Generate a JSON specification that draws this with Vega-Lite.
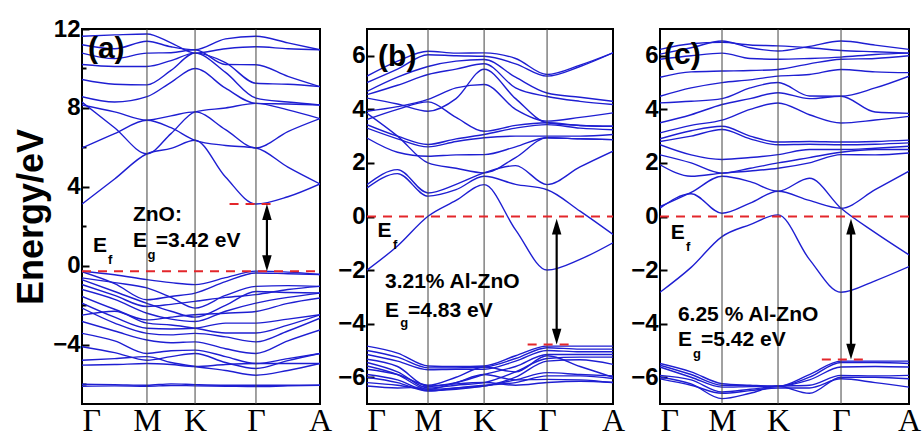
{
"$schema": "https://vega.github.io/schema/vega-lite/v6.json",
"padding": {"left": 12, "top": 16, "right": 2, "bottom": 0},
"bounds": "flush",
"spacing": 47,
"config": {
  "view": {"stroke": "black", "strokeWidth": 2},
  "font": "Liberation Sans",
  "axis": {"labelFont": "Liberation Sans", "labelFontWeight": "bold", "labelColor": "black", "titleColor": "black", "grid": false, "domain": false, "tickColor": "black"}
},
"datasets": {
"A": [
{"b":"c1","k":0,"e":3.13},{"b":"c1","k":0.137,"e":4.4},{"b":"c1","k":0.273,"e":5.68},{"b":"c1","k":0.374,"e":5.95},{"b":"c1","k":0.475,"e":6.36},{"b":"c1","k":0.603,"e":4.5},{"b":"c1","k":0.731,"e":3.13},{"b":"c1","k":0.865,"e":3.5},{"b":"c1","k":1,"e":4.15},
{"b":"c2","k":0,"e":5.97},{"b":"c2","k":0.137,"e":6.7},{"b":"c2","k":0.273,"e":7.38},{"b":"c2","k":0.374,"e":7.0},{"b":"c2","k":0.475,"e":6.36},{"b":"c2","k":0.603,"e":6.1},{"b":"c2","k":0.731,"e":5.97},{"b":"c2","k":0.865,"e":5.0},{"b":"c2","k":1,"e":4.15},
{"b":"c3","k":0,"e":8.3},{"b":"c3","k":0.137,"e":7.0},{"b":"c3","k":0.273,"e":5.68},{"b":"c3","k":0.374,"e":6.7},{"b":"c3","k":0.475,"e":7.8},{"b":"c3","k":0.603,"e":8.0},{"b":"c3","k":0.731,"e":8.23},{"b":"c3","k":0.865,"e":7.9},{"b":"c3","k":1,"e":7.46},
{"b":"c4","k":0,"e":8.15},{"b":"c4","k":0.137,"e":7.8},{"b":"c4","k":0.273,"e":7.38},{"b":"c4","k":0.374,"e":7.6},{"b":"c4","k":0.475,"e":7.8},{"b":"c4","k":0.603,"e":6.9},{"b":"c4","k":0.731,"e":5.97},{"b":"c4","k":0.865,"e":6.8},{"b":"c4","k":1,"e":7.46},
{"b":"c5","k":0,"e":8.57},{"b":"c5","k":0.137,"e":8.3},{"b":"c5","k":0.273,"e":8.57},{"b":"c5","k":0.374,"e":9.3},{"b":"c5","k":0.475,"e":10.0},{"b":"c5","k":0.603,"e":9.0},{"b":"c5","k":0.731,"e":8.23},{"b":"c5","k":0.865,"e":8.2},{"b":"c5","k":1,"e":8.15},
{"b":"c6","k":0,"e":9.44},{"b":"c6","k":0.137,"e":9.2},{"b":"c6","k":0.273,"e":9.17},{"b":"c6","k":0.374,"e":9.9},{"b":"c6","k":0.475,"e":10.78},{"b":"c6","k":0.603,"e":9.8},{"b":"c6","k":0.731,"e":8.5},{"b":"c6","k":0.865,"e":8.3},{"b":"c6","k":1,"e":8.15},
{"b":"c7","k":0,"e":10.2},{"b":"c7","k":0.137,"e":10.1},{"b":"c7","k":0.273,"e":10.1},{"b":"c7","k":0.374,"e":10.4},{"b":"c7","k":0.475,"e":10.78},{"b":"c7","k":0.603,"e":10.3},{"b":"c7","k":0.731,"e":9.25},{"b":"c7","k":0.865,"e":9.2},{"b":"c7","k":1,"e":9.08},
{"b":"c8","k":0,"e":10.78},{"b":"c8","k":0.137,"e":10.5},{"b":"c8","k":0.273,"e":10.78},{"b":"c8","k":0.374,"e":10.8},{"b":"c8","k":0.475,"e":10.95},{"b":"c8","k":0.603,"e":10.2},{"b":"c8","k":0.731,"e":10.19},{"b":"c8","k":0.865,"e":9.6},{"b":"c8","k":1,"e":9.08},
{"b":"c9","k":0,"e":11.2},{"b":"c9","k":0.137,"e":11.0},{"b":"c9","k":0.273,"e":11.38},{"b":"c9","k":0.374,"e":11.1},{"b":"c9","k":0.475,"e":10.95},{"b":"c9","k":0.603,"e":11.5},{"b":"c9","k":0.731,"e":11.63},{"b":"c9","k":0.865,"e":11.3},{"b":"c9","k":1,"e":10.95},
{"b":"c10","k":0,"e":11.63},{"b":"c10","k":0.137,"e":11.7},{"b":"c10","k":0.273,"e":11.75},{"b":"c10","k":0.374,"e":11.3},{"b":"c10","k":0.475,"e":10.78},{"b":"c10","k":0.603,"e":11.0},{"b":"c10","k":0.731,"e":11.1},{"b":"c10","k":0.865,"e":11.0},{"b":"c10","k":1,"e":10.95},
{"b":"v1","k":0,"e":-0.27},{"b":"v1","k":0.137,"e":-0.45},{"b":"v1","k":0.273,"e":-0.7},{"b":"v1","k":0.374,"e":-0.85},{"b":"v1","k":0.475,"e":-0.95},{"b":"v1","k":0.603,"e":-0.6},{"b":"v1","k":0.731,"e":-0.27},{"b":"v1","k":0.865,"e":-0.32},{"b":"v1","k":1,"e":-0.44},
{"b":"v2","k":0,"e":-0.3},{"b":"v2","k":0.137,"e":-0.9},{"b":"v2","k":0.273,"e":-1.72},{"b":"v2","k":0.374,"e":-1.55},{"b":"v2","k":0.475,"e":-1.38},{"b":"v2","k":0.603,"e":-0.8},{"b":"v2","k":0.731,"e":-0.36},{"b":"v2","k":0.865,"e":-0.4},{"b":"v2","k":1,"e":-0.44},
{"b":"v3","k":0,"e":-0.61},{"b":"v3","k":0.137,"e":-0.85},{"b":"v3","k":0.273,"e":-1.12},{"b":"v3","k":0.374,"e":-1.6},{"b":"v3","k":0.475,"e":-2.14},{"b":"v3","k":0.603,"e":-1.5},{"b":"v3","k":0.731,"e":-1.04},{"b":"v3","k":0.865,"e":-1.0},{"b":"v3","k":1,"e":-1.04},
{"b":"v4","k":0,"e":-0.95},{"b":"v4","k":0.137,"e":-1.5},{"b":"v4","k":0.273,"e":-2.06},{"b":"v4","k":0.374,"e":-1.95},{"b":"v4","k":0.475,"e":-1.8},{"b":"v4","k":0.603,"e":-1.6},{"b":"v4","k":0.731,"e":-1.46},{"b":"v4","k":0.865,"e":-1.2},{"b":"v4","k":1,"e":-1.04},
{"b":"v5","k":0,"e":-1.2},{"b":"v5","k":0.137,"e":-1.7},{"b":"v5","k":0.273,"e":-2.4},{"b":"v5","k":0.374,"e":-2.7},{"b":"v5","k":0.475,"e":-2.82},{"b":"v5","k":0.603,"e":-2.3},{"b":"v5","k":0.731,"e":-1.89},{"b":"v5","k":0.865,"e":-1.6},{"b":"v5","k":1,"e":-1.38},
{"b":"v6","k":0,"e":-1.55},{"b":"v6","k":0.137,"e":-2.2},{"b":"v6","k":0.273,"e":-2.74},{"b":"v6","k":0.374,"e":-2.6},{"b":"v6","k":0.475,"e":-2.48},{"b":"v6","k":0.603,"e":-2.4},{"b":"v6","k":0.731,"e":-2.31},{"b":"v6","k":0.865,"e":-1.9},{"b":"v6","k":1,"e":-1.63},
{"b":"v7","k":0,"e":-1.89},{"b":"v7","k":0.137,"e":-2.6},{"b":"v7","k":0.273,"e":-3.16},{"b":"v7","k":0.374,"e":-3.2},{"b":"v7","k":0.475,"e":-3.16},{"b":"v7","k":0.603,"e":-2.9},{"b":"v7","k":0.731,"e":-2.9},{"b":"v7","k":0.865,"e":-2.7},{"b":"v7","k":1,"e":-2.48},
{"b":"v8","k":0,"e":-2.14},{"b":"v8","k":0.137,"e":-2.9},{"b":"v8","k":0.273,"e":-3.42},{"b":"v8","k":0.374,"e":-3.5},{"b":"v8","k":0.475,"e":-3.42},{"b":"v8","k":0.603,"e":-3.6},{"b":"v8","k":0.731,"e":-3.85},{"b":"v8","k":0.865,"e":-3.3},{"b":"v8","k":1,"e":-2.65},
{"b":"v9","k":0,"e":-2.82},{"b":"v9","k":0.137,"e":-3.3},{"b":"v9","k":0.273,"e":-3.76},{"b":"v9","k":0.374,"e":-3.9},{"b":"v9","k":0.475,"e":-3.85},{"b":"v9","k":0.603,"e":-4.2},{"b":"v9","k":0.731,"e":-4.44},{"b":"v9","k":0.865,"e":-3.8},{"b":"v9","k":1,"e":-3.25},
{"b":"v10","k":0,"e":-3.42},{"b":"v10","k":0.137,"e":-3.8},{"b":"v10","k":0.273,"e":-4.44},{"b":"v10","k":0.374,"e":-4.3},{"b":"v10","k":0.475,"e":-4.27},{"b":"v10","k":0.603,"e":-4.6},{"b":"v10","k":0.731,"e":-4.95},{"b":"v10","k":0.865,"e":-4.7},{"b":"v10","k":1,"e":-4.44},
{"b":"v11","k":0,"e":-4.1},{"b":"v11","k":0.137,"e":-4.4},{"b":"v11","k":0.273,"e":-4.78},{"b":"v11","k":0.374,"e":-4.6},{"b":"v11","k":0.475,"e":-4.44},{"b":"v11","k":0.603,"e":-4.9},{"b":"v11","k":0.731,"e":-5.2},{"b":"v11","k":0.865,"e":-4.8},{"b":"v11","k":1,"e":-4.44},
{"b":"v12","k":0,"e":-4.78},{"b":"v12","k":0.137,"e":-4.7},{"b":"v12","k":0.273,"e":-4.6},{"b":"v12","k":0.374,"e":-4.9},{"b":"v12","k":0.475,"e":-5.1},{"b":"v12","k":0.603,"e":-5.3},{"b":"v12","k":0.731,"e":-5.54},{"b":"v12","k":0.865,"e":-5.3},{"b":"v12","k":1,"e":-4.95},
{"b":"v13","k":0,"e":-5.03},{"b":"v13","k":0.137,"e":-5.0},{"b":"v13","k":0.273,"e":-4.95},{"b":"v13","k":0.374,"e":-5.0},{"b":"v13","k":0.475,"e":-5.1},{"b":"v13","k":0.603,"e":-5.0},{"b":"v13","k":0.731,"e":-4.95},{"b":"v13","k":0.865,"e":-4.95},{"b":"v13","k":1,"e":-4.95},
{"b":"v14","k":0,"e":-6.0},{"b":"v14","k":0.137,"e":-6.02},{"b":"v14","k":0.273,"e":-6.05},{"b":"v14","k":0.374,"e":-5.98},{"b":"v14","k":0.475,"e":-6.02},{"b":"v14","k":0.603,"e":-6.05},{"b":"v14","k":0.731,"e":-6.05},{"b":"v14","k":0.865,"e":-6.05},{"b":"v14","k":1,"e":-6.05},
{"b":"v15","k":0,"e":-6.1},{"b":"v15","k":0.137,"e":-6.08},{"b":"v15","k":0.273,"e":-6.1},{"b":"v15","k":0.374,"e":-6.06},{"b":"v15","k":0.475,"e":-6.08},{"b":"v15","k":0.603,"e":-6.1},{"b":"v15","k":0.731,"e":-6.12},{"b":"v15","k":0.865,"e":-6.08},{"b":"v15","k":1,"e":-6.05},
{"b":"v16","k":0,"e":-0.7},{"b":"v16","k":0.137,"e":-1.3},{"b":"v16","k":0.273,"e":-1.9},{"b":"v16","k":0.374,"e":-2.3},{"b":"v16","k":0.475,"e":-2.6},{"b":"v16","k":0.603,"e":-2.0},{"b":"v16","k":0.731,"e":-1.3},{"b":"v16","k":0.865,"e":-1.35},{"b":"v16","k":1,"e":-1.38},
{"b":"v17","k":0,"e":-2.5},{"b":"v17","k":0.137,"e":-2.3},{"b":"v17","k":0.273,"e":-2.9},{"b":"v17","k":0.374,"e":-3.0},{"b":"v17","k":0.475,"e":-3.16},{"b":"v17","k":0.603,"e":-3.4},{"b":"v17","k":0.731,"e":-3.4},{"b":"v17","k":0.865,"e":-3.0},{"b":"v17","k":1,"e":-2.48}
],
"B": [
{"b":"b1","k":0,"e":-2.0},{"b":"b1","k":0.124,"e":-1.1},{"b":"b1","k":0.248,"e":0.01},{"b":"b1","k":0.362,"e":0.6},{"b":"b1","k":0.476,"e":1.19},{"b":"b1","k":0.604,"e":-0.5},{"b":"b1","k":0.732,"e":-2.0},{"b":"b1","k":0.866,"e":-1.6},{"b":"b1","k":1,"e":-0.98},
{"b":"b2","k":0,"e":1.07},{"b":"b2","k":0.124,"e":1.6},{"b":"b2","k":0.248,"e":0.76},{"b":"b2","k":0.362,"e":1.0},{"b":"b2","k":0.476,"e":1.5},{"b":"b2","k":0.604,"e":1.2},{"b":"b2","k":0.732,"e":1.0},{"b":"b2","k":0.866,"e":0.2},{"b":"b2","k":1,"e":-0.67},
{"b":"b3","k":0,"e":1.19},{"b":"b3","k":0.124,"e":1.75},{"b":"b3","k":0.248,"e":0.88},{"b":"b3","k":0.362,"e":1.2},{"b":"b3","k":0.476,"e":1.63},{"b":"b3","k":0.604,"e":1.9},{"b":"b3","k":0.732,"e":1.19},{"b":"b3","k":0.866,"e":1.85},{"b":"b3","k":1,"e":2.44},
{"b":"b4","k":0,"e":2.93},{"b":"b4","k":0.124,"e":2.4},{"b":"b4","k":0.248,"e":2.25},{"b":"b4","k":0.362,"e":2.3},{"b":"b4","k":0.476,"e":2.31},{"b":"b4","k":0.604,"e":2.6},{"b":"b4","k":0.732,"e":2.94},{"b":"b4","k":0.866,"e":2.9},{"b":"b4","k":1,"e":2.87},
{"b":"b5","k":0,"e":3.3},{"b":"b5","k":0.124,"e":2.9},{"b":"b5","k":0.248,"e":2.6},{"b":"b5","k":0.362,"e":2.8},{"b":"b5","k":0.476,"e":2.94},{"b":"b5","k":0.604,"e":3.0},{"b":"b5","k":0.732,"e":3.0},{"b":"b5","k":0.866,"e":3.0},{"b":"b5","k":1,"e":3.06},
{"b":"b6","k":0,"e":3.43},{"b":"b6","k":0.124,"e":3.0},{"b":"b6","k":0.248,"e":2.69},{"b":"b6","k":0.362,"e":2.9},{"b":"b6","k":0.476,"e":3.06},{"b":"b6","k":0.604,"e":3.3},{"b":"b6","k":0.732,"e":3.43},{"b":"b6","k":0.866,"e":3.3},{"b":"b6","k":1,"e":3.24},
{"b":"b7","k":0,"e":3.62},{"b":"b7","k":0.124,"e":4.0},{"b":"b7","k":0.248,"e":4.28},{"b":"b7","k":0.362,"e":3.7},{"b":"b7","k":0.476,"e":3.18},{"b":"b7","k":0.604,"e":3.4},{"b":"b7","k":0.732,"e":3.5},{"b":"b7","k":0.866,"e":3.4},{"b":"b7","k":1,"e":3.37},
{"b":"b8","k":0,"e":3.93},{"b":"b8","k":0.124,"e":4.1},{"b":"b8","k":0.248,"e":4.37},{"b":"b8","k":0.362,"e":4.8},{"b":"b8","k":0.476,"e":4.93},{"b":"b8","k":0.604,"e":4.0},{"b":"b8","k":0.732,"e":3.56},{"b":"b8","k":0.866,"e":3.7},{"b":"b8","k":1,"e":3.87},
{"b":"b9","k":0,"e":3.85},{"b":"b9","k":0.124,"e":3.0},{"b":"b9","k":0.248,"e":2.0},{"b":"b9","k":0.362,"e":1.8},{"b":"b9","k":0.476,"e":1.63},{"b":"b9","k":0.604,"e":2.2},{"b":"b9","k":0.732,"e":2.94},{"b":"b9","k":0.866,"e":2.9},{"b":"b9","k":1,"e":2.87},
{"b":"b10","k":0,"e":4.42},{"b":"b10","k":0.124,"e":4.2},{"b":"b10","k":0.248,"e":3.93},{"b":"b10","k":0.362,"e":4.4},{"b":"b10","k":0.476,"e":5.5},{"b":"b10","k":0.604,"e":4.4},{"b":"b10","k":0.732,"e":3.5},{"b":"b10","k":0.866,"e":3.4},{"b":"b10","k":1,"e":3.37},
{"b":"b11","k":0,"e":4.55},{"b":"b11","k":0.124,"e":4.9},{"b":"b11","k":0.248,"e":5.3},{"b":"b11","k":0.362,"e":5.5},{"b":"b11","k":0.476,"e":5.7},{"b":"b11","k":0.604,"e":4.8},{"b":"b11","k":0.732,"e":4.48},{"b":"b11","k":0.866,"e":4.3},{"b":"b11","k":1,"e":4.18},
{"b":"b12","k":0,"e":4.67},{"b":"b12","k":0.124,"e":5.2},{"b":"b12","k":0.248,"e":5.6},{"b":"b12","k":0.362,"e":5.8},{"b":"b12","k":0.476,"e":5.86},{"b":"b12","k":0.604,"e":5.2},{"b":"b12","k":0.732,"e":4.61},{"b":"b12","k":0.866,"e":4.45},{"b":"b12","k":1,"e":4.3},
{"b":"b13","k":0,"e":5.0},{"b":"b13","k":0.124,"e":5.5},{"b":"b13","k":0.248,"e":6.04},{"b":"b13","k":0.362,"e":6.0},{"b":"b13","k":0.476,"e":5.98},{"b":"b13","k":0.604,"e":5.7},{"b":"b13","k":0.732,"e":5.24},{"b":"b13","k":0.866,"e":5.6},{"b":"b13","k":1,"e":6.11},
{"b":"b14","k":0,"e":5.24},{"b":"b14","k":0.124,"e":5.8},{"b":"b14","k":0.248,"e":6.17},{"b":"b14","k":0.362,"e":6.1},{"b":"b14","k":0.476,"e":6.11},{"b":"b14","k":0.604,"e":5.9},{"b":"b14","k":0.732,"e":5.3},{"b":"b14","k":0.866,"e":5.65},{"b":"b14","k":1,"e":6.11},
{"b":"bv1","k":0,"e":-4.84},{"b":"bv1","k":0.124,"e":-5.1},{"b":"bv1","k":0.248,"e":-5.58},{"b":"bv1","k":0.362,"e":-5.6},{"b":"bv1","k":0.476,"e":-5.58},{"b":"bv1","k":0.604,"e":-5.2},{"b":"bv1","k":0.732,"e":-4.84},{"b":"bv1","k":0.866,"e":-4.84},{"b":"bv1","k":1,"e":-4.84},
{"b":"bv2","k":0,"e":-5.0},{"b":"bv2","k":0.124,"e":-5.25},{"b":"bv2","k":0.248,"e":-5.65},{"b":"bv2","k":0.362,"e":-5.65},{"b":"bv2","k":0.476,"e":-5.62},{"b":"bv2","k":0.604,"e":-5.3},{"b":"bv2","k":0.732,"e":-4.9},{"b":"bv2","k":0.866,"e":-4.95},{"b":"bv2","k":1,"e":-4.95},
{"b":"bv3","k":0,"e":-5.15},{"b":"bv3","k":0.124,"e":-5.4},{"b":"bv3","k":0.248,"e":-5.72},{"b":"bv3","k":0.362,"e":-5.7},{"b":"bv3","k":0.476,"e":-5.7},{"b":"bv3","k":0.604,"e":-5.4},{"b":"bv3","k":0.732,"e":-5.0},{"b":"bv3","k":0.866,"e":-5.05},{"b":"bv3","k":1,"e":-5.05},
{"b":"bv4","k":0,"e":-5.33},{"b":"bv4","k":0.124,"e":-5.6},{"b":"bv4","k":0.248,"e":-6.33},{"b":"bv4","k":0.362,"e":-6.2},{"b":"bv4","k":0.476,"e":-5.9},{"b":"bv4","k":0.604,"e":-5.6},{"b":"bv4","k":0.732,"e":-5.15},{"b":"bv4","k":0.866,"e":-5.15},{"b":"bv4","k":1,"e":-5.15},
{"b":"bv5","k":0,"e":-5.45},{"b":"bv5","k":0.124,"e":-5.8},{"b":"bv5","k":0.248,"e":-6.4},{"b":"bv5","k":0.362,"e":-6.3},{"b":"bv5","k":0.476,"e":-6.2},{"b":"bv5","k":0.604,"e":-5.8},{"b":"bv5","k":0.732,"e":-5.3},{"b":"bv5","k":0.866,"e":-5.25},{"b":"bv5","k":1,"e":-5.25},
{"b":"bv6","k":0,"e":-5.58},{"b":"bv6","k":0.124,"e":-5.9},{"b":"bv6","k":0.248,"e":-6.45},{"b":"bv6","k":0.362,"e":-6.4},{"b":"bv6","k":0.476,"e":-6.33},{"b":"bv6","k":0.604,"e":-6.0},{"b":"bv6","k":0.732,"e":-5.4},{"b":"bv6","k":0.866,"e":-5.35},{"b":"bv6","k":1,"e":-5.52},
{"b":"bv7","k":0,"e":-5.9},{"b":"bv7","k":0.124,"e":-6.1},{"b":"bv7","k":0.248,"e":-6.5},{"b":"bv7","k":0.362,"e":-6.45},{"b":"bv7","k":0.476,"e":-6.33},{"b":"bv7","k":0.604,"e":-6.1},{"b":"bv7","k":0.732,"e":-5.83},{"b":"bv7","k":0.866,"e":-5.9},{"b":"bv7","k":1,"e":-5.95},
{"b":"bv8","k":0,"e":-6.0},{"b":"bv8","k":0.124,"e":-6.2},{"b":"bv8","k":0.248,"e":-6.52},{"b":"bv8","k":0.362,"e":-6.4},{"b":"bv8","k":0.476,"e":-6.3},{"b":"bv8","k":0.604,"e":-6.2},{"b":"bv8","k":0.732,"e":-5.95},{"b":"bv8","k":0.866,"e":-5.95},{"b":"bv8","k":1,"e":-6.05},
{"b":"bv9","k":0,"e":-6.2},{"b":"bv9","k":0.124,"e":-6.3},{"b":"bv9","k":0.248,"e":-6.45},{"b":"bv9","k":0.362,"e":-6.2},{"b":"bv9","k":0.476,"e":-5.9},{"b":"bv9","k":0.604,"e":-6.1},{"b":"bv9","k":0.732,"e":-6.08},{"b":"bv9","k":0.866,"e":-6.1},{"b":"bv9","k":1,"e":-6.2},
{"b":"bv10","k":0,"e":-6.33},{"b":"bv10","k":0.124,"e":-6.4},{"b":"bv10","k":0.248,"e":-6.35},{"b":"bv10","k":0.362,"e":-6.25},{"b":"bv10","k":0.476,"e":-6.2},{"b":"bv10","k":0.604,"e":-6.3},{"b":"bv10","k":0.732,"e":-6.2},{"b":"bv10","k":0.866,"e":-6.15},{"b":"bv10","k":1,"e":-6.2},
{"b":"bv11","k":0,"e":-5.7},{"b":"bv11","k":0.124,"e":-5.9},{"b":"bv11","k":0.248,"e":-6.3},{"b":"bv11","k":0.362,"e":-6.0},{"b":"bv11","k":0.476,"e":-5.62},{"b":"bv11","k":0.604,"e":-5.8},{"b":"bv11","k":0.732,"e":-5.2},{"b":"bv11","k":0.866,"e":-5.6},{"b":"bv11","k":1,"e":-6.0}
],
"C": [
{"b":"cc1","k":0,"e":-2.83},{"b":"cc1","k":0.125,"e":-1.9},{"b":"cc1","k":0.249,"e":-0.75},{"b":"cc1","k":0.362,"e":-0.3},{"b":"cc1","k":0.474,"e":0.06},{"b":"cc1","k":0.6,"e":-1.6},{"b":"cc1","k":0.727,"e":-2.83},{"b":"cc1","k":0.864,"e":-2.4},{"b":"cc1","k":1,"e":-1.87},
{"b":"cc2","k":0,"e":0.31},{"b":"cc2","k":0.125,"e":0.85},{"b":"cc2","k":0.249,"e":0.12},{"b":"cc2","k":0.362,"e":0.5},{"b":"cc2","k":0.474,"e":0.94},{"b":"cc2","k":0.6,"e":0.6},{"b":"cc2","k":0.727,"e":0.31},{"b":"cc2","k":0.864,"e":1.0},{"b":"cc2","k":1,"e":1.69},
{"b":"cc3","k":0,"e":0.37},{"b":"cc3","k":0.125,"e":0.9},{"b":"cc3","k":0.249,"e":1.5},{"b":"cc3","k":0.362,"e":1.3},{"b":"cc3","k":0.474,"e":0.94},{"b":"cc3","k":0.6,"e":1.43},{"b":"cc3","k":0.727,"e":0.31},{"b":"cc3","k":0.864,"e":-0.6},{"b":"cc3","k":1,"e":-1.43},
{"b":"cc4","k":0,"e":1.93},{"b":"cc4","k":0.125,"e":1.5},{"b":"cc4","k":0.249,"e":1.62},{"b":"cc4","k":0.362,"e":1.7},{"b":"cc4","k":0.474,"e":1.8},{"b":"cc4","k":0.6,"e":2.0},{"b":"cc4","k":0.727,"e":2.31},{"b":"cc4","k":0.864,"e":2.3},{"b":"cc4","k":1,"e":2.37},
{"b":"cc5","k":0,"e":2.68},{"b":"cc5","k":0.125,"e":2.3},{"b":"cc5","k":0.249,"e":2.13},{"b":"cc5","k":0.362,"e":2.2},{"b":"cc5","k":0.474,"e":2.31},{"b":"cc5","k":0.6,"e":2.5},{"b":"cc5","k":0.727,"e":2.5},{"b":"cc5","k":0.864,"e":2.55},{"b":"cc5","k":1,"e":2.62},
{"b":"cc6","k":0,"e":2.8},{"b":"cc6","k":0.125,"e":3.0},{"b":"cc6","k":0.249,"e":3.25},{"b":"cc6","k":0.362,"e":2.9},{"b":"cc6","k":0.474,"e":2.68},{"b":"cc6","k":0.6,"e":2.7},{"b":"cc6","k":0.727,"e":2.68},{"b":"cc6","k":0.864,"e":2.7},{"b":"cc6","k":1,"e":2.75},
{"b":"cc7","k":0,"e":2.9},{"b":"cc7","k":0.125,"e":3.2},{"b":"cc7","k":0.249,"e":3.37},{"b":"cc7","k":0.362,"e":3.0},{"b":"cc7","k":0.474,"e":2.78},{"b":"cc7","k":0.6,"e":2.8},{"b":"cc7","k":0.727,"e":2.78},{"b":"cc7","k":0.864,"e":2.8},{"b":"cc7","k":1,"e":2.85},
{"b":"cc8","k":0,"e":3.12},{"b":"cc8","k":0.125,"e":3.4},{"b":"cc8","k":0.249,"e":3.6},{"b":"cc8","k":0.362,"e":4.0},{"b":"cc8","k":0.474,"e":4.24},{"b":"cc8","k":0.6,"e":3.8},{"b":"cc8","k":0.727,"e":3.49},{"b":"cc8","k":0.864,"e":3.6},{"b":"cc8","k":1,"e":3.74},
{"b":"cc9","k":0,"e":3.5},{"b":"cc9","k":0.125,"e":3.8},{"b":"cc9","k":0.249,"e":4.18},{"b":"cc9","k":0.362,"e":4.4},{"b":"cc9","k":0.474,"e":4.62},{"b":"cc9","k":0.6,"e":4.4},{"b":"cc9","k":0.727,"e":4.49},{"b":"cc9","k":0.864,"e":3.9},{"b":"cc9","k":1,"e":3.85},
{"b":"cc10","k":0,"e":4.24},{"b":"cc10","k":0.125,"e":4.3},{"b":"cc10","k":0.249,"e":4.4},{"b":"cc10","k":0.362,"e":4.8},{"b":"cc10","k":0.474,"e":5.0},{"b":"cc10","k":0.6,"e":4.5},{"b":"cc10","k":0.727,"e":4.49},{"b":"cc10","k":0.864,"e":4.8},{"b":"cc10","k":1,"e":5.24},
{"b":"cc11","k":0,"e":4.49},{"b":"cc11","k":0.125,"e":4.8},{"b":"cc11","k":0.249,"e":5.0},{"b":"cc11","k":0.362,"e":5.1},{"b":"cc11","k":0.474,"e":5.24},{"b":"cc11","k":0.6,"e":5.3},{"b":"cc11","k":0.727,"e":5.49},{"b":"cc11","k":0.864,"e":5.4},{"b":"cc11","k":1,"e":5.37},
{"b":"cc12","k":0,"e":5.2},{"b":"cc12","k":0.125,"e":5.4},{"b":"cc12","k":0.249,"e":5.43},{"b":"cc12","k":0.362,"e":5.45},{"b":"cc12","k":0.474,"e":5.49},{"b":"cc12","k":0.6,"e":5.7},{"b":"cc12","k":0.727,"e":5.87},{"b":"cc12","k":0.864,"e":5.9},{"b":"cc12","k":1,"e":6.0},
{"b":"cc13","k":0,"e":5.87},{"b":"cc13","k":0.125,"e":6.0},{"b":"cc13","k":0.249,"e":6.1},{"b":"cc13","k":0.362,"e":5.9},{"b":"cc13","k":0.474,"e":5.87},{"b":"cc13","k":0.6,"e":5.9},{"b":"cc13","k":0.727,"e":5.95},{"b":"cc13","k":0.864,"e":6.05},{"b":"cc13","k":1,"e":6.1},
{"b":"cc14","k":0,"e":6.06},{"b":"cc14","k":0.125,"e":6.3},{"b":"cc14","k":0.249,"e":6.55},{"b":"cc14","k":0.362,"e":6.3},{"b":"cc14","k":0.474,"e":6.18},{"b":"cc14","k":0.6,"e":6.35},{"b":"cc14","k":0.727,"e":6.55},{"b":"cc14","k":0.864,"e":6.4},{"b":"cc14","k":1,"e":6.24},
{"b":"cc15","k":0,"e":6.24},{"b":"cc15","k":0.125,"e":6.45},{"b":"cc15","k":0.249,"e":6.5},{"b":"cc15","k":0.362,"e":6.4},{"b":"cc15","k":0.474,"e":6.37},{"b":"cc15","k":0.6,"e":6.3},{"b":"cc15","k":0.727,"e":6.2},{"b":"cc15","k":0.864,"e":6.15},{"b":"cc15","k":1,"e":6.1},
{"b":"cc16","k":0,"e":2.3},{"b":"cc16","k":0.125,"e":2.0},{"b":"cc16","k":0.249,"e":1.62},{"b":"cc16","k":0.362,"e":1.8},{"b":"cc16","k":0.474,"e":2.0},{"b":"cc16","k":0.6,"e":2.2},{"b":"cc16","k":0.727,"e":2.4},{"b":"cc16","k":0.864,"e":2.5},{"b":"cc16","k":1,"e":2.5},
{"b":"cv1","k":0,"e":-5.49},{"b":"cv1","k":0.125,"e":-5.8},{"b":"cv1","k":0.249,"e":-6.24},{"b":"cv1","k":0.362,"e":-6.3},{"b":"cv1","k":0.474,"e":-6.34},{"b":"cv1","k":0.6,"e":-5.9},{"b":"cv1","k":0.727,"e":-5.4},{"b":"cv1","k":0.864,"e":-5.4},{"b":"cv1","k":1,"e":-5.4},
{"b":"cv2","k":0,"e":-5.55},{"b":"cv2","k":0.125,"e":-5.9},{"b":"cv2","k":0.249,"e":-6.3},{"b":"cv2","k":0.362,"e":-6.32},{"b":"cv2","k":0.474,"e":-6.34},{"b":"cv2","k":0.6,"e":-6.0},{"b":"cv2","k":0.727,"e":-5.45},{"b":"cv2","k":0.864,"e":-5.45},{"b":"cv2","k":1,"e":-5.49},
{"b":"cv3","k":0,"e":-5.62},{"b":"cv3","k":0.125,"e":-6.0},{"b":"cv3","k":0.249,"e":-6.37},{"b":"cv3","k":0.362,"e":-6.35},{"b":"cv3","k":0.474,"e":-6.34},{"b":"cv3","k":0.6,"e":-6.1},{"b":"cv3","k":0.727,"e":-5.62},{"b":"cv3","k":0.864,"e":-5.6},{"b":"cv3","k":1,"e":-5.62},
{"b":"cv4","k":0,"e":-5.93},{"b":"cv4","k":0.125,"e":-6.1},{"b":"cv4","k":0.249,"e":-6.55},{"b":"cv4","k":0.362,"e":-6.45},{"b":"cv4","k":0.474,"e":-6.34},{"b":"cv4","k":0.6,"e":-6.3},{"b":"cv4","k":0.727,"e":-5.93},{"b":"cv4","k":0.864,"e":-5.95},{"b":"cv4","k":1,"e":-5.93},
{"b":"cv5","k":0,"e":-6.0},{"b":"cv5","k":0.125,"e":-6.25},{"b":"cv5","k":0.249,"e":-6.8},{"b":"cv5","k":0.362,"e":-6.6},{"b":"cv5","k":0.474,"e":-6.34},{"b":"cv5","k":0.6,"e":-6.6},{"b":"cv5","k":0.727,"e":-6.0},{"b":"cv5","k":0.864,"e":-6.0},{"b":"cv5","k":1,"e":-6.06},
{"b":"cv6","k":0,"e":-6.06},{"b":"cv6","k":0.125,"e":-6.3},{"b":"cv6","k":0.249,"e":-6.6},{"b":"cv6","k":0.362,"e":-6.5},{"b":"cv6","k":0.474,"e":-6.4},{"b":"cv6","k":0.6,"e":-6.4},{"b":"cv6","k":0.727,"e":-6.06},{"b":"cv6","k":0.864,"e":-6.2},{"b":"cv6","k":1,"e":-6.37}
]
},
"hconcat": [
{
 "width": 238, "height": 375,
 "layer": [
   {"data": {"name": "A"},
    "mark": {"type": "line", "interpolate": "monotone", "color": "#1e1ed2", "strokeWidth": 1.4, "clip": true},
    "encoding": {
     "x": {"field": "k", "type": "quantitative", "scale": {"domain": [0, 1], "nice": false},
       "axis": {"title": null, "values": [0, 0.273, 0.475, 0.731, 1], "labelExpr": "datum.value < 0.1 ? 'Γ' : datum.value < 0.35 ? 'M' : datum.value < 0.6 ? 'K' : datum.value < 0.9 ? 'Γ' : 'A'", "labelFont": "Liberation Serif", "labelFontWeight": "normal", "labelFontSize": 32, "ticks": false, "labelFlush": false, "labelPadding": 1, "labelAlign": {"condition": {"test": "datum.value == 0", "value": "left"}, "value": "center"}}},
     "y": {"field": "e", "type": "quantitative", "scale": {"domain": [-7, 12], "nice": false},
       "axis": {"title": "Energy/eV", "titleFont": "Liberation Sans", "titleFontSize": 36, "titleFontWeight": "bold", "titlePadding": 2, "values": [-6, -4, -2, 0, 2, 4, 6, 8, 10, 12], "labelExpr": "datum.value % 4 == 0 ? datum.label : ''", "labelFontSize": 24, "tickSize": {"condition": {"test": "datum.value % 4 == 0", "value": -7}, "value": -4}, "tickWidth": 2, "labelPadding": 9}},
     "detail": {"field": "b"}
    }},
   {"data": {"values": [{"k": 0.273}, {"k": 0.475}, {"k": 0.731}]},
    "mark": {"type": "rule", "color": "#444", "strokeWidth": 1},
    "encoding": {"x": {"field": "k", "type": "quantitative"}}},
   {"data": {"values": [{"k1": 0, "k2": 1, "e": -0.27}, {"k1": 0.62, "k2": 0.815, "e": 3.13}]},
    "mark": {"type": "rule", "color": "#e3262b", "strokeWidth": 2, "strokeDash": [9, 7]},
    "encoding": {"x": {"field": "k1", "type": "quantitative"}, "x2": {"field": "k2"}, "y": {"field": "e", "type": "quantitative"}}},
   {"data": {"values": [{"k": 0.777, "e1": 2.9, "e2": -0.05}]},
    "mark": {"type": "rule", "color": "black", "strokeWidth": 2.2},
    "encoding": {"x": {"field": "k", "type": "quantitative"}, "y": {"field": "e1", "type": "quantitative"}, "y2": {"field": "e2"}}},
   {"data": {"values": [{"k": 0.777, "e": 3.13}]},
    "mark": {"type": "point", "shape": "M0,0L-0.3,1L0.3,1Z", "filled": true, "color": "black", "opacity": 1, "size": 1000},
    "encoding": {"x": {"field": "k", "type": "quantitative"}, "y": {"field": "e", "type": "quantitative"}}},
   {"data": {"values": [{"k": 0.777, "e": -0.27}]},
    "mark": {"type": "point", "shape": "M0,0L-0.3,-1L0.3,-1Z", "filled": true, "color": "black", "opacity": 1, "size": 1000},
    "encoding": {"x": {"field": "k", "type": "quantitative"}, "y": {"field": "e", "type": "quantitative"}}},
   {"data": {"values": [{"t": "ZnO:", "k": 0.214, "e": 2.6}, {"t": "E", "k": 0.214, "e": 1.28}, {"t": "=3.42 eV", "k": 0.31, "e": 1.28}, {"t": "E", "k": 0.046, "e": 1.02}]},
    "mark": {"type": "text", "align": "left", "baseline": "middle", "font": "Liberation Sans", "fontWeight": "bold", "fontSize": 21, "color": "black"},
    "encoding": {"x": {"field": "k", "type": "quantitative"}, "y": {"field": "e", "type": "quantitative"}, "text": {"field": "t"}}},
   {"data": {"values": [{"t": "g", "k": 0.275, "e": 0.56}, {"t": "f", "k": 0.109, "e": 0.31}]},
    "mark": {"type": "text", "align": "left", "baseline": "middle", "font": "Liberation Sans", "fontWeight": "bold", "fontSize": 13, "color": "black"},
    "encoding": {"x": {"field": "k", "type": "quantitative"}, "y": {"field": "e", "type": "quantitative"}, "text": {"field": "t"}}},
   {"data": {"values": [{"t": "(a)", "k": 0.025, "e": 10.97}]},
    "mark": {"type": "text", "align": "left", "baseline": "middle", "font": "Liberation Sans", "fontWeight": "bold", "fontSize": 30, "color": "black"},
    "encoding": {"x": {"field": "k", "type": "quantitative"}, "y": {"field": "e", "type": "quantitative"}, "text": {"field": "t"}}}
 ]
},
{
 "width": 246, "height": 375,
 "layer": [
   {"data": {"name": "B"},
    "mark": {"type": "line", "interpolate": "monotone", "color": "#1e1ed2", "strokeWidth": 1.4, "clip": true},
    "encoding": {
     "x": {"field": "k", "type": "quantitative", "scale": {"domain": [0, 1], "nice": false},
       "axis": {"title": null, "values": [0, 0.248, 0.476, 0.732, 1], "labelExpr": "datum.value < 0.1 ? 'Γ' : datum.value < 0.35 ? 'M' : datum.value < 0.6 ? 'K' : datum.value < 0.9 ? 'Γ' : 'A'", "labelFont": "Liberation Serif", "labelFontWeight": "normal", "labelFontSize": 32, "ticks": false, "labelFlush": false, "labelPadding": 1, "labelAlign": {"condition": {"test": "datum.value == 0", "value": "left"}, "value": "center"}}},
     "y": {"field": "e", "type": "quantitative", "scale": {"domain": [-7, 7], "nice": false},
       "axis": {"title": null, "values": [-6, -5, -4, -3, -2, -1, 0, 1, 2, 3, 4, 5, 6], "labelExpr": "datum.value % 2 == 0 ? datum.label : ''", "labelFontSize": 24, "tickSize": {"condition": {"test": "datum.value % 2 == 0", "value": -7}, "value": -4}, "tickWidth": 2, "labelPadding": 9}},
     "detail": {"field": "b"}
    }},
   {"data": {"values": [{"k": 0.248}, {"k": 0.476}, {"k": 0.732}]},
    "mark": {"type": "rule", "color": "#444", "strokeWidth": 1},
    "encoding": {"x": {"field": "k", "type": "quantitative"}}},
   {"data": {"values": [{"k1": 0, "k2": 1, "e": 0}, {"k1": 0.653, "k2": 0.841, "e": -4.78}]},
    "mark": {"type": "rule", "color": "#e3262b", "strokeWidth": 2, "strokeDash": [9, 7]},
    "encoding": {"x": {"field": "k1", "type": "quantitative"}, "x2": {"field": "k2"}, "y": {"field": "e", "type": "quantitative"}}},
   {"data": {"values": [{"k": 0.771, "e1": -0.3, "e2": -4.55}]},
    "mark": {"type": "rule", "color": "black", "strokeWidth": 2.2},
    "encoding": {"x": {"field": "k", "type": "quantitative"}, "y": {"field": "e1", "type": "quantitative"}, "y2": {"field": "e2"}}},
   {"data": {"values": [{"k": 0.771, "e": -0.08}]},
    "mark": {"type": "point", "shape": "M0,0L-0.3,1L0.3,1Z", "filled": true, "color": "black", "opacity": 1, "size": 1000},
    "encoding": {"x": {"field": "k", "type": "quantitative"}, "y": {"field": "e", "type": "quantitative"}}},
   {"data": {"values": [{"k": 0.771, "e": -4.78}]},
    "mark": {"type": "point", "shape": "M0,0L-0.3,-1L0.3,-1Z", "filled": true, "color": "black", "opacity": 1, "size": 1000},
    "encoding": {"x": {"field": "k", "type": "quantitative"}, "y": {"field": "e", "type": "quantitative"}}},
   {"data": {"values": [{"t": "3.21% Al-ZnO", "k": 0.073, "e": -2.46}, {"t": "E", "k": 0.073, "e": -3.51}, {"t": "=4.83 eV", "k": 0.167, "e": -3.51}, {"t": "E", "k": 0.043, "e": -0.55}]},
    "mark": {"type": "text", "align": "left", "baseline": "middle", "font": "Liberation Sans", "fontWeight": "bold", "fontSize": 21, "color": "black"},
    "encoding": {"x": {"field": "k", "type": "quantitative"}, "y": {"field": "e", "type": "quantitative"}, "text": {"field": "t"}}},
   {"data": {"values": [{"t": "g", "k": 0.135, "e": -3.96}, {"t": "f", "k": 0.106, "e": -1.07}]},
    "mark": {"type": "text", "align": "left", "baseline": "middle", "font": "Liberation Sans", "fontWeight": "bold", "fontSize": 13, "color": "black"},
    "encoding": {"x": {"field": "k", "type": "quantitative"}, "y": {"field": "e", "type": "quantitative"}, "text": {"field": "t"}}},
   {"data": {"values": [{"t": "(b)", "k": 0.045, "e": 5.97}]},
    "mark": {"type": "text", "align": "left", "baseline": "middle", "font": "Liberation Sans", "fontWeight": "bold", "fontSize": 30, "color": "black"},
    "encoding": {"x": {"field": "k", "type": "quantitative"}, "y": {"field": "e", "type": "quantitative"}, "text": {"field": "t"}}}
 ]
},
{
 "width": 249, "height": 375,
 "layer": [
   {"data": {"name": "C"},
    "mark": {"type": "line", "interpolate": "monotone", "color": "#1e1ed2", "strokeWidth": 1.4, "clip": true},
    "encoding": {
     "x": {"field": "k", "type": "quantitative", "scale": {"domain": [0, 1], "nice": false},
       "axis": {"title": null, "values": [0, 0.249, 0.474, 0.727, 1], "labelExpr": "datum.value < 0.1 ? 'Γ' : datum.value < 0.35 ? 'M' : datum.value < 0.6 ? 'K' : datum.value < 0.9 ? 'Γ' : 'A'", "labelFont": "Liberation Serif", "labelFontWeight": "normal", "labelFontSize": 32, "ticks": false, "labelFlush": false, "labelPadding": 1, "labelAlign": {"condition": {"test": "datum.value == 0", "value": "left"}, "value": "center"}}},
     "y": {"field": "e", "type": "quantitative", "scale": {"domain": [-7, 7], "nice": false},
       "axis": {"title": null, "values": [-6, -5, -4, -3, -2, -1, 0, 1, 2, 3, 4, 5, 6], "labelExpr": "datum.value % 2 == 0 ? datum.label : ''", "labelFontSize": 24, "tickSize": {"condition": {"test": "datum.value % 2 == 0", "value": -7}, "value": -4}, "tickWidth": 2, "labelPadding": 9}},
     "detail": {"field": "b"}
    }},
   {"data": {"values": [{"k": 0.249}, {"k": 0.474}, {"k": 0.727}]},
    "mark": {"type": "rule", "color": "#444", "strokeWidth": 1},
    "encoding": {"x": {"field": "k", "type": "quantitative"}}},
   {"data": {"values": [{"k1": 0, "k2": 1, "e": 0}, {"k1": 0.65, "k2": 0.84, "e": -5.34}]},
    "mark": {"type": "rule", "color": "#e3262b", "strokeWidth": 2, "strokeDash": [9, 7]},
    "encoding": {"x": {"field": "k1", "type": "quantitative"}, "x2": {"field": "k2"}, "y": {"field": "e", "type": "quantitative"}}},
   {"data": {"values": [{"k": 0.767, "e1": -0.3, "e2": -5.1}]},
    "mark": {"type": "rule", "color": "black", "strokeWidth": 2.2},
    "encoding": {"x": {"field": "k", "type": "quantitative"}, "y": {"field": "e1", "type": "quantitative"}, "y2": {"field": "e2"}}},
   {"data": {"values": [{"k": 0.767, "e": -0.08}]},
    "mark": {"type": "point", "shape": "M0,0L-0.3,1L0.3,1Z", "filled": true, "color": "black", "opacity": 1, "size": 1000},
    "encoding": {"x": {"field": "k", "type": "quantitative"}, "y": {"field": "e", "type": "quantitative"}}},
   {"data": {"values": [{"k": 0.767, "e": -5.34}]},
    "mark": {"type": "point", "shape": "M0,0L-0.3,-1L0.3,-1Z", "filled": true, "color": "black", "opacity": 1, "size": 1000},
    "encoding": {"x": {"field": "k", "type": "quantitative"}, "y": {"field": "e", "type": "quantitative"}}},
   {"data": {"values": [{"t": "6.25 % Al-ZnO", "k": 0.072, "e": -3.67}, {"t": "E", "k": 0.072, "e": -4.61}, {"t": "=5.42 eV", "k": 0.165, "e": -4.61}, {"t": "E", "k": 0.043, "e": -0.62}]},
    "mark": {"type": "text", "align": "left", "baseline": "middle", "font": "Liberation Sans", "fontWeight": "bold", "fontSize": 21, "color": "black"},
    "encoding": {"x": {"field": "k", "type": "quantitative"}, "y": {"field": "e", "type": "quantitative"}, "text": {"field": "t"}}},
   {"data": {"values": [{"t": "g", "k": 0.133, "e": -5.12}, {"t": "f", "k": 0.104, "e": -1.12}]},
    "mark": {"type": "text", "align": "left", "baseline": "middle", "font": "Liberation Sans", "fontWeight": "bold", "fontSize": 13, "color": "black"},
    "encoding": {"x": {"field": "k", "type": "quantitative"}, "y": {"field": "e", "type": "quantitative"}, "text": {"field": "t"}}},
   {"data": {"values": [{"t": "(c)", "k": 0.016, "e": 6.03}]},
    "mark": {"type": "text", "align": "left", "baseline": "middle", "font": "Liberation Sans", "fontWeight": "bold", "fontSize": 30, "color": "black"},
    "encoding": {"x": {"field": "k", "type": "quantitative"}, "y": {"field": "e", "type": "quantitative"}, "text": {"field": "t"}}}
 ]
}
]
}
